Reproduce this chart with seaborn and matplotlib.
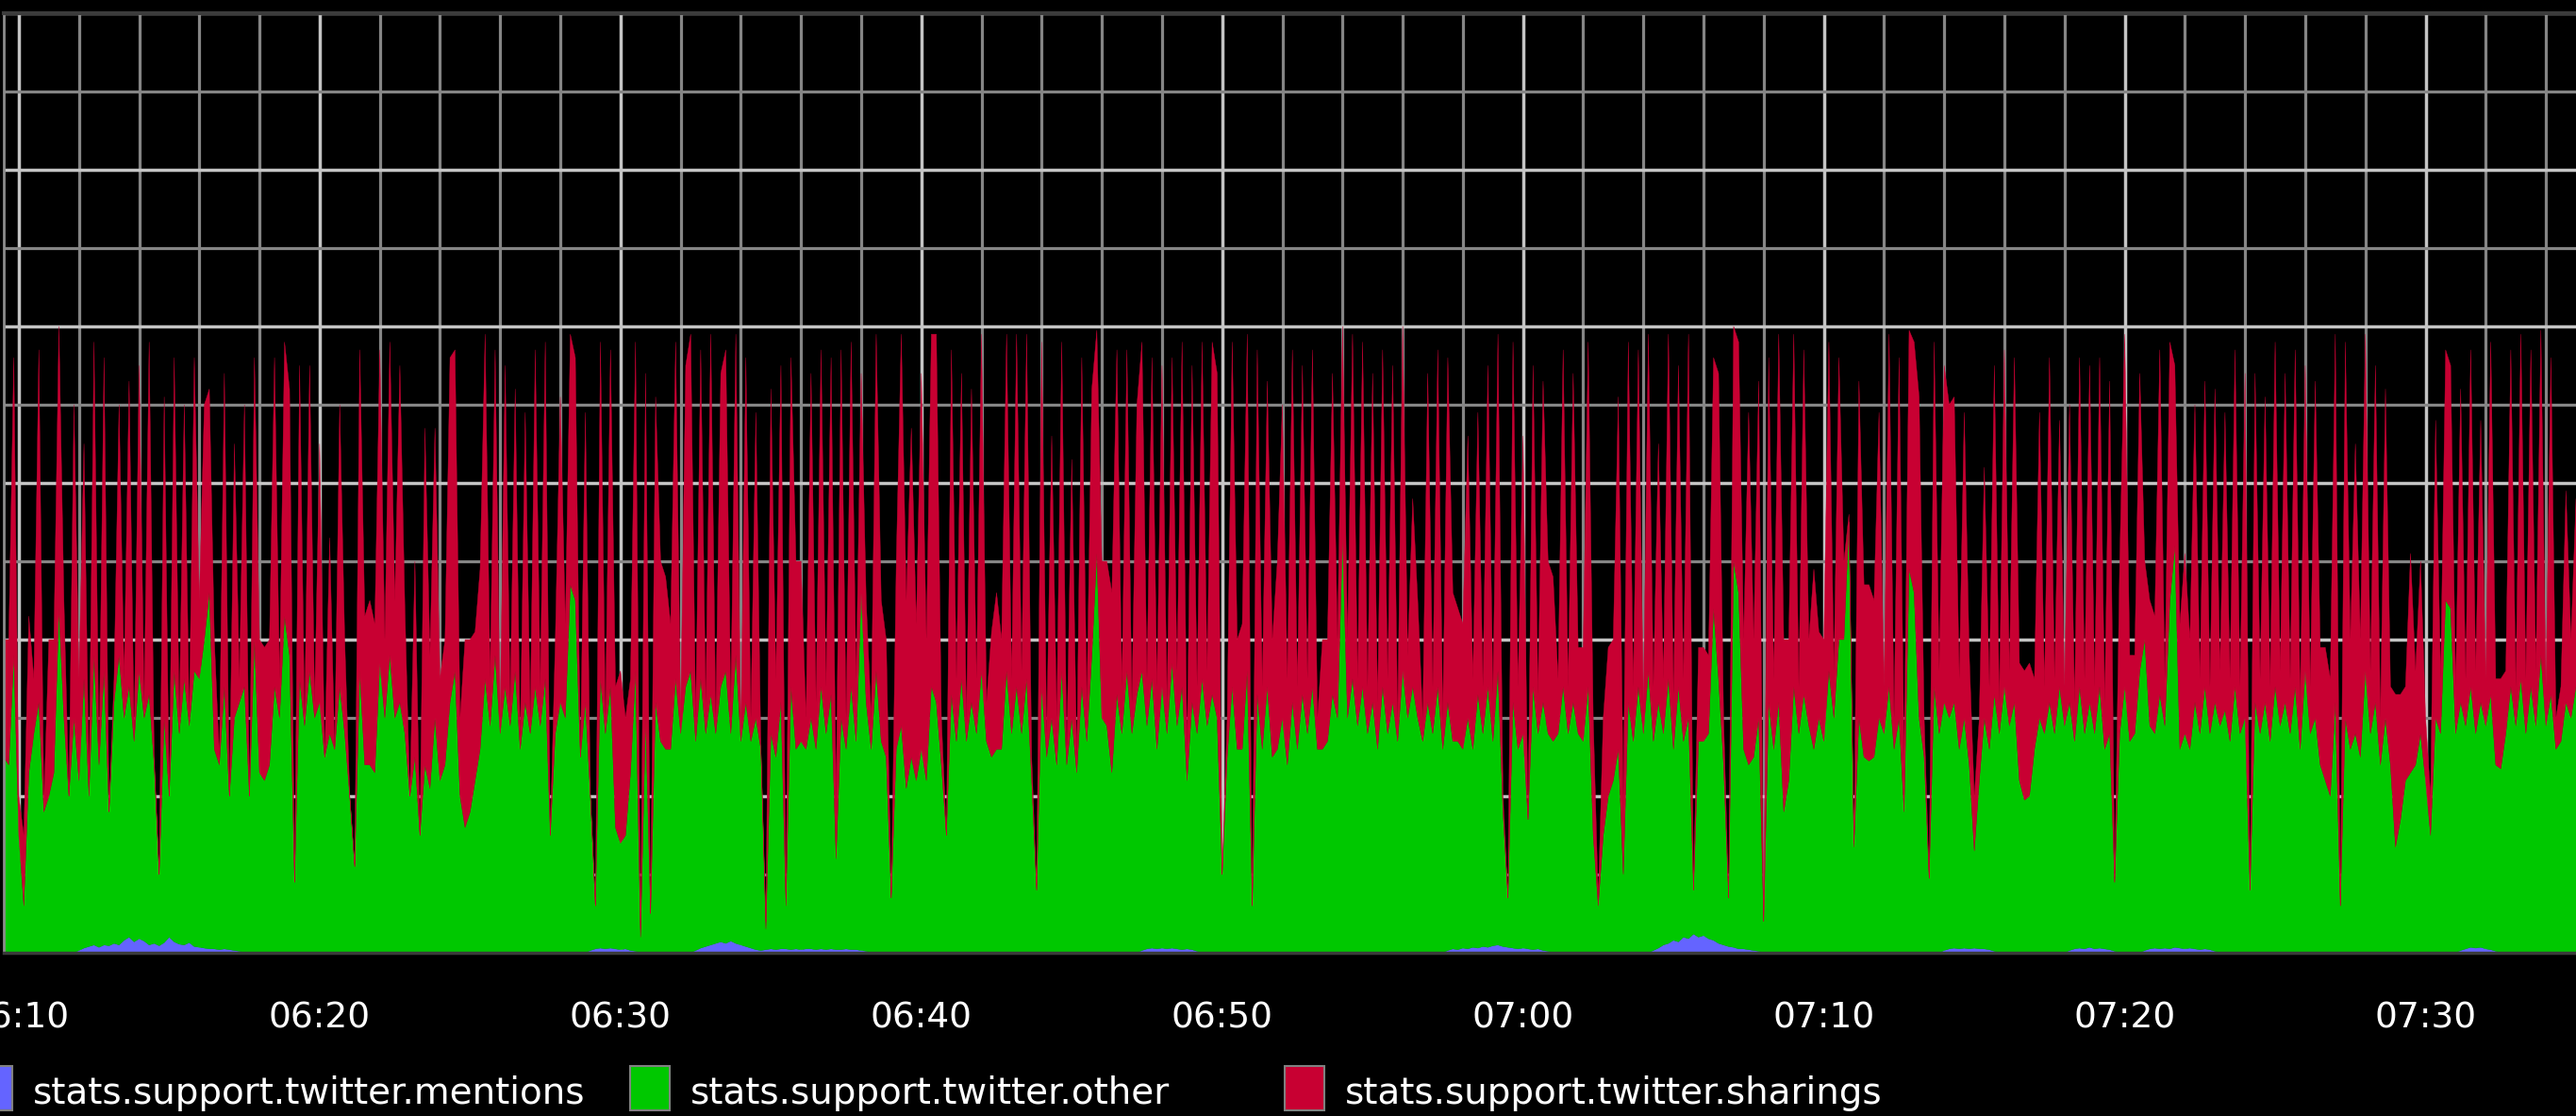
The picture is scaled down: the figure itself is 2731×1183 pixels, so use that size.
import numpy as np
import pandas as pd
import matplotlib
matplotlib.use('Agg')
import matplotlib.pyplot as plt
import matplotlib.dates as mdates
from matplotlib.ticker import MultipleLocator
from matplotlib.patches import Rectangle
import seaborn as sns

# series names and graphite default colours (blue, green, red)
labels = ['stats.support.twitter.mentions', 'stats.support.twitter.other', 'stats.support.twitter.sharings']
colors = ['#6464ff', '#00c800', '#c80032']

start = '2013-05-14 06:09:20'   # first 10 s sample

# mentions (bottom layer)
mentions = [
    0, 0, 0, 0, 0, 0, 0, 0, 0, 0,
    0, 0, 0, 0, 0, 0, 0.03, 0.06, 0.08, 0.1,
    0.07, 0.1, 0.09, 0.12, 0.1, 0.16, 0.2, 0.14, 0.18, 0.15,
    0.1, 0.12, 0.09, 0.13, 0.2, 0.14, 0.11, 0.1, 0.13, 0.08,
    0.07, 0.06, 0.05, 0.05, 0.04, 0.05, 0.04, 0.03, 0.02, 0,
    0, 0, 0, 0, 0, 0, 0, 0, 0, 0,
    0, 0, 0, 0, 0, 0, 0, 0, 0, 0,
    0, 0, 0, 0, 0, 0, 0, 0, 0, 0,
    0, 0, 0, 0, 0, 0, 0, 0, 0, 0,
    0, 0, 0, 0, 0, 0, 0, 0, 0, 0,
    0, 0, 0, 0, 0, 0, 0, 0, 0, 0,
    0, 0, 0, 0, 0, 0, 0, 0, 0.03, 0.05,
    0.06, 0.05, 0.06, 0.05, 0.04, 0.05, 0.03, 0.02, 0, 0,
    0, 0, 0, 0, 0, 0, 0, 0, 0, 0.03,
    0.06, 0.08, 0.1, 0.12, 0.14, 0.12, 0.15, 0.12, 0.1, 0.08,
    0.06, 0.04, 0.03, 0.04, 0.05, 0.04, 0.05, 0.05, 0.04, 0.05,
    0.04, 0.05, 0.05, 0.04, 0.05, 0.04, 0.05, 0.04, 0.04, 0.05,
    0.04, 0.04, 0.03, 0.02, 0, 0, 0, 0, 0, 0,
    0, 0, 0, 0, 0, 0, 0, 0, 0, 0,
    0, 0, 0, 0, 0, 0, 0, 0, 0, 0,
    0, 0, 0, 0, 0, 0, 0, 0, 0, 0,
    0, 0, 0, 0, 0, 0, 0, 0, 0, 0,
    0, 0, 0, 0, 0, 0, 0, 0, 0.03, 0.05,
    0.06, 0.05, 0.06, 0.05, 0.06, 0.05, 0.04, 0.05, 0.04, 0.02,
    0, 0, 0, 0, 0, 0, 0, 0, 0, 0,
    0, 0, 0, 0, 0, 0, 0, 0, 0, 0,
    0, 0, 0, 0, 0, 0, 0, 0, 0, 0,
    0, 0, 0, 0, 0, 0, 0, 0, 0, 0,
    0, 0, 0, 0, 0, 0, 0, 0, 0, 0.03,
    0.05, 0.04, 0.06, 0.05, 0.07, 0.06, 0.08, 0.07, 0.09, 0.1,
    0.08, 0.07, 0.06, 0.05, 0.06, 0.05, 0.04, 0.05, 0.03, 0.02,
    0, 0, 0, 0, 0, 0, 0, 0, 0, 0,
    0, 0, 0, 0, 0, 0, 0, 0, 0, 0,
    0.03, 0.06, 0.1, 0.12, 0.16, 0.14, 0.2, 0.18, 0.24, 0.2,
    0.22, 0.18, 0.16, 0.12, 0.1, 0.08, 0.07, 0.05, 0.05, 0.04,
    0.03, 0.02, 0, 0, 0, 0, 0, 0, 0, 0,
    0, 0, 0, 0, 0, 0, 0, 0, 0, 0,
    0, 0, 0, 0, 0, 0, 0, 0, 0, 0,
    0, 0, 0, 0, 0, 0, 0, 0, 0.03, 0.05,
    0.06, 0.05, 0.06, 0.05, 0.06, 0.05, 0.05, 0.04, 0.02, 0,
    0, 0, 0, 0, 0, 0, 0, 0, 0, 0,
    0, 0, 0, 0.03, 0.05, 0.06, 0.05, 0.07, 0.05, 0.06,
    0.05, 0.04, 0.02, 0, 0, 0, 0, 0, 0.03, 0.05,
    0.06, 0.05, 0.06, 0.05, 0.07, 0.06, 0.05, 0.06, 0.05, 0.04,
    0.05, 0.04, 0.02, 0, 0, 0, 0, 0, 0, 0,
    0, 0, 0, 0, 0, 0, 0, 0, 0, 0,
    0, 0, 0, 0, 0, 0, 0, 0, 0, 0,
    0, 0, 0, 0, 0, 0, 0, 0, 0, 0,
    0, 0, 0, 0, 0, 0, 0, 0, 0, 0,
    0, 0.03, 0.05, 0.07, 0.06, 0.07, 0.05, 0.04, 0.02, 0,
    0, 0, 0, 0, 0, 0, 0, 0, 0, 0,
    0, 0, 0, 0, 0,
]

# top edge of the green layer (mentions + other)
other_top = [
    2.5, 2.5, 2.4, 3.8, 1.5, 0.6, 2.3, 2.8, 3.2, 1.8,
    2.0, 2.3, 4.4, 3.0, 2.0, 3.0, 2.2, 3.5, 2.0, 3.8,
    2.4, 3.6, 1.8, 3.2, 3.8, 3.0, 3.4, 2.7, 3.6, 3.0,
    3.3, 2.4, 1.0, 3.0, 2.0, 3.6, 2.8, 3.5, 2.9, 3.6,
    3.5, 4.0, 4.6, 2.6, 2.4, 3.4, 2.0, 3.0, 3.2, 3.4,
    2.0, 4.0, 2.3, 2.2, 2.4, 3.4, 3.0, 4.3, 3.8, 0.9,
    3.5, 2.9, 3.6, 3.0, 3.2, 2.5, 2.8, 2.6, 3.4, 2.8,
    2.0, 1.1, 3.6, 2.4, 2.4, 2.3, 3.7, 3.0, 3.8, 3.0,
    3.2, 2.8, 2.0, 2.5, 1.5, 2.4, 2.1, 3.0, 2.2, 2.4,
    3.2, 3.6, 2.0, 1.6, 1.8, 2.2, 2.6, 3.5, 2.9, 3.8,
    2.8, 3.4, 2.9, 3.6, 2.6, 3.2, 2.8, 3.4, 2.9, 3.5,
    1.5, 2.8, 3.2, 3.0, 4.7, 4.5, 2.5, 3.2, 2.0, 0.6,
    3.5, 2.8, 3.4, 1.6, 1.4, 1.5, 2.3, 3.6, 0.2, 3.0,
    0.5, 3.2, 2.7, 2.6, 2.6, 3.5, 2.8, 3.4, 3.6, 2.7,
    3.5, 2.8, 3.3, 2.8, 3.4, 3.6, 2.8, 3.8, 2.7, 3.2,
    2.7, 3.0, 2.6, 0.3, 2.8, 2.5, 3.2, 0.6, 3.4, 2.6,
    2.7, 2.6, 3.0, 2.6, 3.4, 2.8, 3.3, 1.2, 3.0, 2.6,
    3.4, 2.7, 4.6, 3.2, 2.6, 3.6, 2.7, 2.5, 0.7, 2.6,
    2.9, 2.1, 2.5, 2.2, 2.6, 2.2, 3.4, 3.2, 2.4, 1.5,
    3.3, 2.7, 3.5, 2.7, 3.2, 2.8, 3.6, 2.7, 2.5, 2.6,
    2.6, 3.6, 2.8, 3.4, 2.8, 3.5, 2.2, 0.8, 3.4, 2.5,
    3.0, 2.4, 3.6, 2.4, 3.0, 2.3, 3.4, 2.7, 3.8, 5.1,
    3.0, 2.9, 2.3, 3.3, 2.8, 3.6, 2.8, 3.3, 3.6, 2.9,
    3.5, 2.6, 3.4, 2.8, 3.7, 2.9, 3.4, 2.2, 3.2, 2.8,
    3.5, 2.9, 3.3, 3.0, 1.0, 2.5, 3.4, 2.6, 2.6, 3.6,
    0.6, 3.3, 2.6, 3.4, 2.5, 2.6, 3.0, 2.4, 3.2, 2.6,
    3.3, 2.8, 3.4, 2.6, 2.6, 2.7, 3.3, 3.0, 5.3, 3.0,
    3.5, 2.9, 3.4, 2.8, 3.2, 2.6, 3.4, 2.8, 3.2, 2.7,
    3.6, 3.0, 3.4, 3.0, 2.7, 3.2, 2.8, 3.4, 2.6, 3.2,
    2.7, 2.7, 2.6, 3.0, 2.6, 3.3, 2.8, 3.4, 2.7, 3.6,
    1.8, 0.7, 3.2, 2.6, 2.8, 1.7, 3.4, 2.8, 3.2, 2.8,
    2.7, 2.8, 3.4, 2.8, 3.2, 2.8, 2.7, 3.4, 1.5, 0.6,
    1.5, 2.0, 2.2, 2.6, 1.0, 3.2, 2.7, 3.4, 2.8, 3.6,
    2.7, 3.2, 2.8, 3.5, 2.6, 3.4, 2.7, 3.0, 0.8, 2.7,
    2.7, 2.8, 4.4, 3.5, 2.4, 0.7, 5.0, 4.6, 2.6, 2.4,
    2.5, 3.0, 0.4, 3.2, 2.6, 3.2, 1.8, 2.2, 3.4, 2.8,
    3.3, 2.9, 2.6, 3.0, 2.7, 3.6, 3.0, 4.0, 4.0, 5.5,
    1.35, 3.0, 2.5, 2.45, 2.5, 3.0, 2.8, 3.4, 2.6, 3.0,
    1.8, 4.9, 4.6, 3.0, 2.5, 0.95, 3.4, 2.8, 3.2, 3.0,
    3.2, 2.6, 3.0, 2.4, 1.3, 2.2, 3.0, 2.6, 3.3, 2.8,
    3.4, 2.9, 3.2, 2.2, 1.95, 2.0, 2.6, 3.0, 2.8, 3.2,
    2.8, 3.4, 2.9, 3.2, 2.7, 3.4, 2.8, 3.2, 2.8, 3.4,
    2.6, 2.8, 0.9, 2.8, 3.4, 2.7, 2.8, 3.6, 4.0, 2.9,
    2.8, 3.3, 2.9, 4.5, 5.2, 2.6, 2.8, 2.6, 3.2, 2.8,
    3.4, 2.8, 3.2, 2.9, 3.1, 2.7, 3.4, 2.8, 3.0, 0.8,
    3.2, 2.8, 3.2, 2.7, 3.4, 2.9, 3.2, 2.8, 3.4, 2.6,
    3.6, 2.8, 3.0, 2.4, 2.2, 2.0, 3.2, 0.6, 3.0, 2.6,
    2.8, 2.5, 3.6, 2.8, 3.2, 2.4, 3.0, 2.4, 1.35, 1.7,
    2.2, 2.3, 2.4, 2.8, 2.2, 1.5, 3.0, 2.8, 4.5, 4.4,
    2.8, 3.2, 2.9, 3.4, 2.8, 3.2, 2.9, 3.3, 2.4, 2.35,
    2.8, 3.4, 2.9, 3.5, 2.8, 3.4, 2.9, 3.8, 2.9, 3.3,
    2.6, 2.7, 3.2, 3.0, 3.4,
]

# top edge of the red layer (whole stack)
sharings_top = [
    4.0, 4.0, 4.0, 7.6, 2.0, 1.5, 4.3, 3.5, 7.7, 1.9,
    4.0, 4.0, 8.0, 4.5, 2.0, 7.0, 3.5, 6.5, 2.2, 7.8,
    2.5, 7.6, 1.8, 3.5, 7.0, 3.5, 7.3, 2.8, 7.5, 3.2,
    7.8, 2.5, 1.0, 7.1, 2.0, 7.6, 3.0, 7.0, 3.0, 7.6,
    4.5, 7.0, 7.2, 4.0, 2.5, 7.4, 2.0, 6.5, 3.5, 7.0,
    2.0, 7.6, 4.0, 3.9, 4.0, 7.6, 3.5, 7.8, 7.2, 0.9,
    7.5, 3.0, 7.5, 3.2, 6.5, 2.5, 5.3, 2.6, 7.0, 4.0,
    2.0, 1.1, 7.7, 4.3, 4.5, 4.2, 7.7, 4.0, 7.8, 4.5,
    7.5, 4.4, 2.0, 5.0, 1.5, 6.7, 3.8, 6.7, 3.5, 4.0,
    7.6, 7.7, 3.0, 4.0, 4.0, 4.1, 4.9, 7.9, 3.5, 7.7,
    3.0, 7.5, 3.2, 7.2, 2.7, 6.9, 3.0, 7.7, 3.4, 7.8,
    1.5, 4.0, 7.1, 4.2, 7.9, 7.6, 2.5, 6.9, 2.0, 0.6,
    7.8, 3.0, 7.7, 3.4, 3.6, 3.0, 3.5, 7.8, 0.3, 7.4,
    0.5, 7.1, 5.0, 4.8, 4.2, 7.8, 3.0, 7.5, 7.9, 3.0,
    7.7, 3.2, 7.9, 3.0, 7.4, 7.7, 3.2, 7.9, 2.8, 7.6,
    3.0, 6.9, 2.6, 0.4, 7.2, 3.5, 7.5, 0.7, 7.6, 5.0,
    5.0, 3.0, 7.4, 3.2, 7.7, 3.4, 7.6, 2.0, 7.7, 3.0,
    7.8, 3.5, 7.4, 4.5, 3.0, 7.9, 4.5, 4.0, 0.7, 5.0,
    7.9, 4.5, 6.7, 4.2, 7.4, 4.0, 7.9, 7.9, 3.0, 1.5,
    7.7, 3.5, 7.4, 3.0, 7.2, 3.5, 7.9, 3.2, 4.1, 4.6,
    4.0, 7.9, 3.5, 7.9, 3.6, 7.9, 2.5, 0.8, 7.8, 2.8,
    6.6, 3.0, 7.8, 2.6, 6.3, 2.5, 7.6, 3.2, 7.2, 7.95,
    5.0, 5.0, 4.6, 7.7, 3.4, 7.7, 3.2, 7.0, 7.8, 3.5,
    7.6, 3.4, 7.5, 3.2, 7.6, 3.6, 7.8, 2.6, 7.5, 3.4,
    7.8, 3.6, 7.8, 7.4, 1.0, 3.0, 7.8, 4.0, 4.2, 7.9,
    0.6, 7.7, 3.4, 7.3, 4.0, 5.0, 7.0, 3.5, 7.7, 3.4,
    7.5, 3.5, 7.7, 3.0, 4.0, 4.0, 7.4, 4.0, 8.0, 4.0,
    7.9, 3.5, 7.8, 3.4, 7.4, 3.2, 7.7, 3.5, 7.5, 3.0,
    8.0, 3.8, 5.8, 4.5, 3.0, 7.4, 3.4, 7.7, 3.0, 7.6,
    4.6, 4.4, 4.2, 6.6, 3.5, 6.9, 3.4, 7.5, 3.3, 7.9,
    2.0, 0.7, 7.8, 3.4, 6.6, 1.7, 7.5, 3.3, 7.3, 5.0,
    4.8, 3.5, 7.7, 3.4, 7.4, 3.9, 3.9, 7.8, 3.0, 0.7,
    3.0, 3.9, 4.0, 7.1, 2.0, 7.8, 3.4, 7.7, 3.2, 7.9,
    3.4, 6.5, 3.5, 7.9, 3.3, 7.5, 3.5, 7.9, 0.8, 3.9,
    3.9, 3.8, 7.6, 7.4, 3.0, 0.7, 8.0, 7.8, 4.0, 6.9,
    4.0, 7.3, 0.4, 7.6, 3.5, 7.9, 4.0, 4.0, 7.9, 3.4,
    7.7, 4.0, 4.9, 4.1, 4.0, 7.8, 3.6, 7.6, 5.0, 5.6,
    1.4, 7.3, 4.7, 4.7, 4.5, 6.9, 3.4, 7.9, 3.0, 7.6,
    2.5, 7.95, 7.8, 7.1, 3.0, 0.95, 7.8, 3.6, 7.5, 7.0,
    7.1, 3.5, 6.9, 3.8, 2.0, 3.0, 6.2, 3.4, 7.5, 3.2,
    7.7, 3.6, 7.6, 3.7, 3.6, 3.7, 3.5, 6.9, 3.4, 7.6,
    3.5, 6.8, 3.4, 7.0, 3.2, 7.6, 3.5, 7.5, 3.4, 7.6,
    3.2, 7.3, 0.9, 5.0, 7.9, 3.8, 3.8, 7.4, 5.0, 4.5,
    4.3, 7.7, 3.5, 7.8, 7.5, 4.2, 5.1, 4.0, 7.0, 3.5,
    7.3, 3.4, 7.2, 3.6, 6.9, 3.5, 7.7, 3.4, 7.4, 0.8,
    7.4, 3.5, 7.1, 3.4, 7.8, 3.6, 7.4, 3.5, 7.7, 3.2,
    7.5, 3.4, 7.3, 3.9, 3.9, 3.5, 7.9, 0.6, 7.8, 4.0,
    6.5, 4.0, 7.9, 3.6, 7.5, 3.0, 7.2, 3.4, 3.3, 3.3,
    3.4, 5.1, 3.6, 5.0, 3.0, 2.0, 6.8, 3.5, 7.7, 7.5,
    3.4, 7.2, 3.5, 7.7, 3.6, 6.8, 3.5, 7.8, 3.5, 3.5,
    3.6, 7.7, 3.4, 7.9, 3.5, 7.7, 3.6, 7.95, 3.4, 7.6,
    3.0, 3.4, 5.9, 4.0, 5.8,
]

assert len(mentions) == len(other_top) == len(sharings_top)

times = pd.date_range(start, periods=len(other_top), freq='10s')
m = np.array(mentions, dtype=float)
g = np.array(other_top, dtype=float)
t = np.array(sharings_top, dtype=float)
other = g - m
sharings = t - g

sns.set_theme(style='dark', rc={
    'figure.facecolor': 'black',
    'axes.facecolor': 'black',
    'text.color': 'white',
    'xtick.color': 'white',
})
plt.rcParams['font.family'] = ['DejaVu Sans']

W, H = 2731, 1183
fig = plt.figure(figsize=(W / 100, H / 100), dpi=100, facecolor='black')
ax = fig.add_axes([4 / W, 173 / H, (W - 4) / W, 996 / H])
ax.set_facecolor('black')

# stacked areas, graphite style (no outlines)
base = np.zeros_like(m)
for vals, col in zip([m, other, sharings], colors):
    ax.fill_between(times, base, base + vals, facecolor=col, edgecolor=col,
                    linewidth=0.3, zorder=2)
    base = base + vals

ax.set_xlim(pd.Timestamp('2013-05-14 06:09:30'), pd.Timestamp('2013-05-14 07:35:00'))
ax.set_ylim(0, 12)

ax.xaxis.set_major_locator(mdates.MinuteLocator(byminute=range(0, 60, 10)))
ax.xaxis.set_minor_locator(mdates.MinuteLocator(byminute=range(0, 60, 2)))
ax.xaxis.set_major_formatter(mdates.DateFormatter('%H:%M'))
ax.yaxis.set_major_locator(MultipleLocator(2))
ax.yaxis.set_minor_locator(MultipleLocator(1))

ax.set_axisbelow(True)
ax.grid(which='major', color='#c4c4c4', linewidth=2.5)
ax.grid(which='minor', color='#858585', linewidth=2.3)

ax.tick_params(axis='y', which='both', length=0, labelleft=False)
ax.tick_params(axis='x', which='both', length=0, pad=37, labelsize=27, labelcolor='white')
ax.set_xlabel('')
ax.set_ylabel('')

ax.spines['right'].set_visible(False)
ax.spines['top'].set_color('#3c3c3c')
ax.spines['top'].set_linewidth(3)
ax.spines['left'].set_color('#8c8c8c')
ax.spines['left'].set_linewidth(2)
ax.spines['bottom'].set_color('#3a3a3a')
ax.spines['bottom'].set_linewidth(2.5)

# legend row along the bottom, drawn like graphite's
for x0, lab, col in zip([-29, 668, 1362], labels, colors):
    fig.patches.append(Rectangle((x0 / W, 6 / H), 42 / W, 47 / H, transform=fig.transFigure,
                                 facecolor=col, edgecolor='#808080', linewidth=1.5))
    fig.text((x0 + 64) / W, 13 / H, lab, color='white', fontsize=28, va='baseline')

fig.savefig('out.png', dpi=100, facecolor='black')
